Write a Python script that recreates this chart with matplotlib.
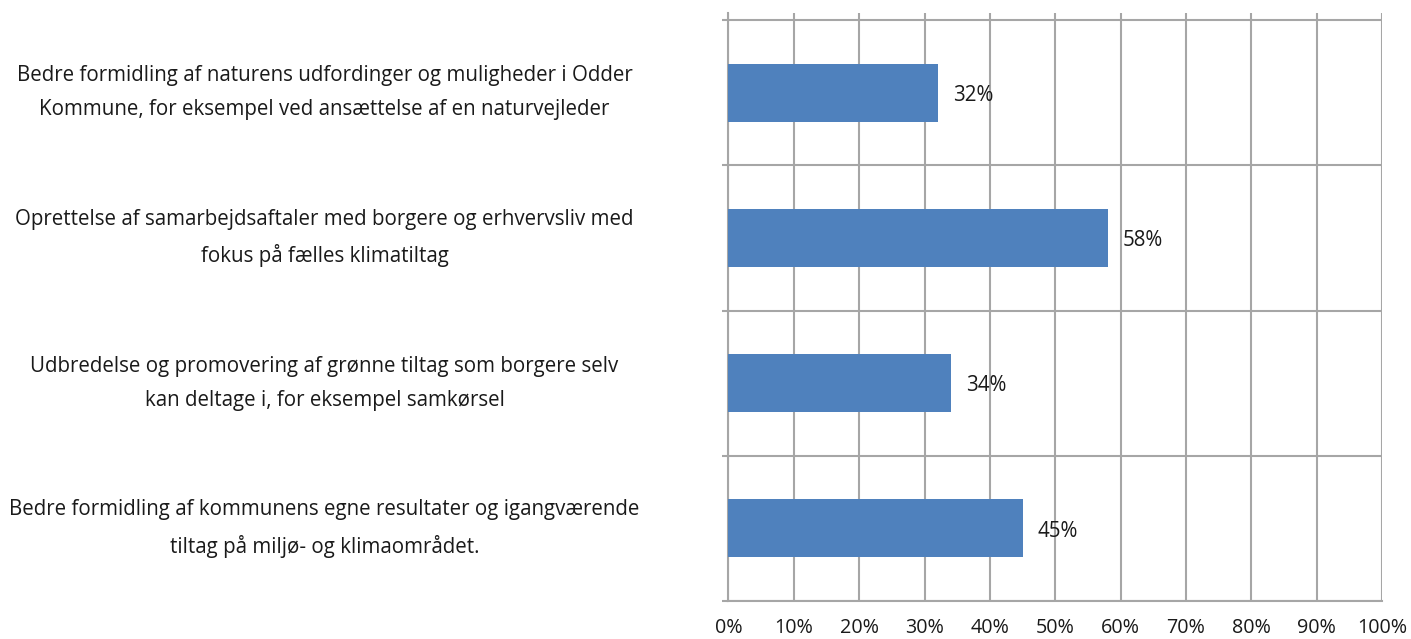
import matplotlib.pyplot as plt

categories = [
    "Bedre formidling af naturens udfordinger og muligheder i Odder\nKommune, for eksempel ved ansættelse af en naturvejleder",
    "Oprettelse af samarbejdsaftaler med borgere og erhvervsliv med\nfokus på fælles klimatiltag",
    "Udbredelse og promovering af grønne tiltag som borgere selv\nkan deltage i, for eksempel samkørsel",
    "Bedre formidling af kommunens egne resultater og igangværende\ntiltag på miljø- og klimaområdet.",
]
values = [32, 58, 34, 45]
xticks = [0, 10, 20, 30, 40, 50, 60, 70, 80, 90, 100]

plt.rcParams['font.family'] = ['Open Sans', 'DejaVu Sans']

fig = plt.figure(figsize=(14.11, 6.39), dpi=100)
ax = fig.add_axes([0.5163, 0.0595, 0.9795 - 0.5163, 0.9797 - 0.0595])

grid_col = "#a6a6a6"
text_col = "#1a1a1a"
fs = 14.8
n = len(categories)
ypos = [n - 1 - i for i in range(n)]

ax.barh(ypos, values, height=0.4, color="#4f81bd", zorder=3)

# value labels to the right of each bar
for y, v in zip(ypos, values):
    ax.annotate(f"{v}%", (v, y), xytext=(11, -2), textcoords="offset points",
                va="center", ha="left", fontsize=fs, color=text_col, zorder=4)

# category labels, centred in the left part of the figure
for y, lab in zip(ypos, categories):
    ax.text(-0.618, y, lab, transform=ax.get_yaxis_transform(), ha="center",
            va="center", multialignment="center", fontsize=fs, color=text_col,
            linespacing=1.8)

ax.set_xlim(0, 100)
ax.set_ylim(-0.5, n - 0.45)
ax.set_xticks(xticks)
ax.set_xticklabels([f"{t}%" for t in xticks], fontsize=14.2, color=text_col)
ax.set_yticks([i - 0.5 for i in range(n + 1)])
ax.set_yticklabels([])

ax.grid(True, color=grid_col, linewidth=1.5, zorder=0)
ax.tick_params(axis="x", length=0, pad=12)
ax.tick_params(axis="y", length=4, width=1.5, color=grid_col)

for side in ["top", "right"]:
    ax.spines[side].set_visible(False)
for side in ["left", "bottom"]:
    ax.spines[side].set_color(grid_col)
    ax.spines[side].set_linewidth(1.5)

fig.savefig("out.png", dpi=100)
